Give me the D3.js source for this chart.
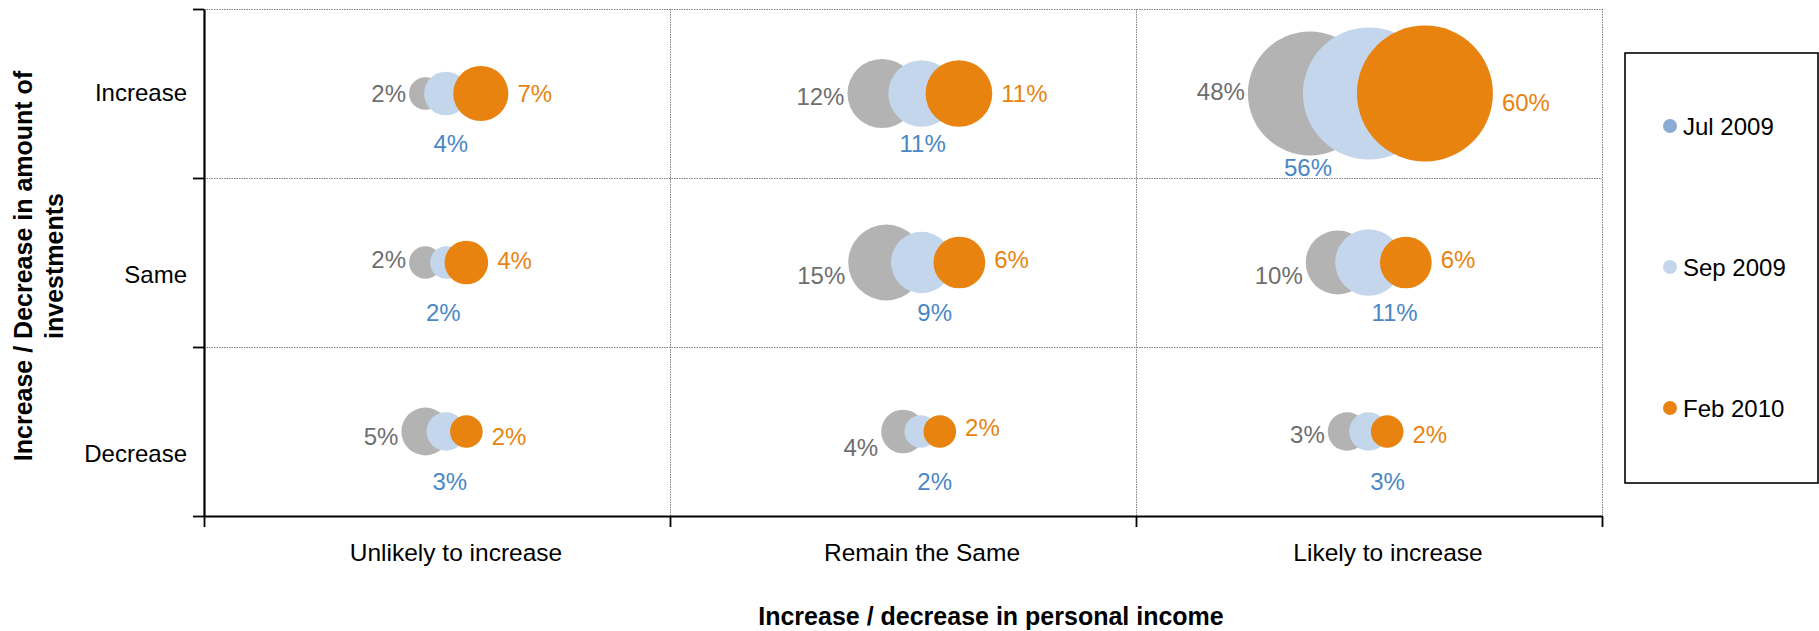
<!DOCTYPE html>
<html>
<head>
<meta charset="utf-8">
<title>Investments vs personal income</title>
<script src="https://cdn.jsdelivr.net/npm/d3@7"></script>
<style>
  html, body { margin: 0; padding: 0; background: #fff; }
  svg { display: block; font-family: "Liberation Sans", Arial, sans-serif; }
</style>
</head>
<body>
<svg id="chart" width="1819" height="631"></svg>
<script>
// Categories
const investmentRows = ["Increase", "Same", "Decrease"];
const incomeCols = ["Unlikely to increase", "Remain the Same", "Likely to increase"];
const seriesNames = ["Jul 2009", "Sep 2009", "Feb 2010"];

// Share of respondents (%), [investment row][income column]
const jul2009 = [[2, 12, 48], [2, 15, 10], [5, 4, 3]];
const sep2009 = [[4, 11, 56], [2, 9, 11], [3, 2, 3]];
const feb2010 = [[7, 11, 60], [4, 6, 6], [2, 2, 2]];

// Bubble x values on the income axis (category units, 0..3)
const jul2009X = [[0.475, 1.455, 2.373], [0.475, 1.464, 2.433], [0.475, 1.500, 2.453]];
const sep2009X = [[0.519, 1.540, 2.500], [0.520, 1.540, 2.499], [0.519, 1.538, 2.499]];
const feb2010X = [[0.594, 1.620, 2.620], [0.563, 1.621, 2.579], [0.563, 1.579, 2.539]];

// Hand placement of the data labels (px), [row][column]
const julLabelDy = [[0, 3, -2], [-3, 13, 13], [5, 16, 3]];
const sepLabelDx = [[5, 1, -61], [-3, 13, 26], [4, 14, 19]];
const febLabelDy = [[0, 0, 9], [-2, -3, -3], [5, -4, 3]];

const series = [
  { name: seriesNames[0], values: jul2009, xs: jul2009X, fill: "#b3b3b3", text: "#6e6e6e", key: "#8aabd4" },
  { name: seriesNames[1], values: sep2009, xs: sep2009X, fill: "#c3d6eb", text: "#4a87c5", key: "#c3d6eb" },
  { name: seriesNames[2], values: feb2010, xs: feb2010X, fill: "#e8830f", text: "#e8830f", key: "#e8830f" }
];

const svg = d3.select("#chart");
const plotLeft = 204, plotRight = 1602, plotTop = 9, plotBottom = 516;

const x = d3.scaleLinear().domain([0, 3]).range([plotLeft, plotRight]);
const y = d3.scaleLinear().domain([0, 3]).range([plotTop, plotBottom]);
const r = d3.scalePow().exponent(0.42).domain([0, 60]).range([0, 68]);

// Dotted grid
const grid = svg.append("g").attr("stroke", "#808080").attr("stroke-width", 1)
  .attr("stroke-dasharray", "1.5,1").attr("fill", "none");
[0, 1, 2].forEach(i => {
  grid.append("line").attr("x1", plotLeft).attr("x2", plotRight)
    .attr("y1", y(i) + 0.5).attr("y2", y(i) + 0.5);
});
[1, 2, 3].forEach(i => {
  grid.append("line").attr("y1", plotTop).attr("y2", plotBottom)
    .attr("x1", x(i) + 0.5).attr("x2", x(i) + 0.5);
});

// Axes (ticks only at category boundaries)
const yAxis = svg.append("g").attr("transform", `translate(${plotLeft},0)`)
  .call(d3.axisLeft(y).tickValues([0, 1, 2, 3]).tickFormat("").tickSizeInner(11).tickSizeOuter(0));
const xAxis = svg.append("g").attr("transform", `translate(0,${plotBottom})`)
  .call(d3.axisBottom(x).tickValues([0, 1, 2, 3]).tickFormat("").tickSizeInner(11).tickSizeOuter(0));
[yAxis, xAxis].forEach(a => {
  a.select(".domain").attr("stroke", "#000").attr("stroke-width", 2.2);
  a.selectAll(".tick line").attr("stroke", "#000").attr("stroke-width", 1.8);
});

// Category labels
const yLabelShift = [-1, 12, 22];
svg.append("g").selectAll("text").data(investmentRows).join("text")
  .attr("x", 187)
  .attr("y", (d, i) => y(i + 0.5) + yLabelShift[i])
  .attr("text-anchor", "end").attr("dominant-baseline", "central")
  .attr("font-size", 24).attr("fill", "#000").text(d => d);

svg.append("g").selectAll("text").data(incomeCols).join("text")
  .attr("x", (d, i) => x(i + 0.5) + 19)
  .attr("y", 552)
  .attr("text-anchor", "middle").attr("dominant-baseline", "central")
  .attr("font-size", 24.5).attr("fill", "#000").text(d => d);

// Axis titles
svg.append("text")
  .attr("x", 991).attr("y", 616)
  .attr("text-anchor", "middle").attr("dominant-baseline", "central")
  .attr("font-size", 25).attr("font-weight", "bold").attr("fill", "#000")
  .text("Increase / decrease in personal income");

const yTitle = svg.append("text")
  .attr("transform", "translate(38.5,266) rotate(-90)")
  .attr("text-anchor", "middle").attr("font-size", 25).attr("font-weight", "bold").attr("fill", "#000");
yTitle.append("tspan").attr("x", 0).attr("y", -15.5).attr("dominant-baseline", "central")
  .text("Increase / Decrease in amount of");
yTitle.append("tspan").attr("x", 0).attr("y", 15.5).attr("dominant-baseline", "central")
  .text("investments");

// Flatten a series into one record per grid cell
function cells(s) {
  const out = [];
  s.values.forEach((row, ri) => row.forEach((v, ci) => {
    out.push({ v, ri, ci, cx: x(s.xs[ri][ci]), cy: y(ri + 0.5), rad: r(v) });
  }));
  return out;
}

// Bubbles: Jul under Sep under Feb
series.forEach(s => {
  svg.append("g").selectAll("circle").data(cells(s)).join("circle")
    .attr("cx", d => d.cx).attr("cy", d => d.cy).attr("r", d => d.rad)
    .attr("fill", s.fill);
});

// Data labels: Jul to the left, Sep below, Feb to the right
const fmt = v => v + "%";
svg.append("g").selectAll("text").data(cells(series[0])).join("text")
  .attr("x", d => d.cx - d.rad - 3)
  .attr("y", d => d.cy + julLabelDy[d.ri][d.ci])
  .attr("text-anchor", "end").attr("dominant-baseline", "central")
  .attr("font-size", 24).attr("fill", series[0].text).text(d => fmt(d.v));

svg.append("g").selectAll("text").data(cells(series[1])).join("text")
  .attr("x", d => d.cx + sepLabelDx[d.ri][d.ci])
  .attr("y", d => d.cy + Math.max(50, d.rad + 8))
  .attr("text-anchor", "middle").attr("dominant-baseline", "central")
  .attr("font-size", 24).attr("fill", series[1].text).text(d => fmt(d.v));

svg.append("g").selectAll("text").data(cells(series[2])).join("text")
  .attr("x", d => d.cx + d.rad + 9)
  .attr("y", d => d.cy + febLabelDy[d.ri][d.ci])
  .attr("text-anchor", "start").attr("dominant-baseline", "central")
  .attr("font-size", 24).attr("fill", series[2].text).text(d => fmt(d.v));

// Legend
const legend = svg.append("g");
legend.append("rect")
  .attr("x", 1625).attr("y", 53).attr("width", 193).attr("height", 430)
  .attr("fill", "#fff").attr("stroke", "#000").attr("stroke-width", 1.6);
const legendY = d3.scalePoint().domain(seriesNames).range([126, 408]);
const item = legend.selectAll("g.item").data(series).join("g").attr("class", "item")
  .attr("transform", d => `translate(0,${legendY(d.name)})`);
item.append("circle").attr("cx", 1670).attr("cy", 0).attr("r", 7).attr("fill", d => d.key);
item.append("text").attr("x", 1683).attr("y", 0).attr("dominant-baseline", "central")
  .attr("font-size", 24).attr("fill", "#000").text(d => d.name);
</script>
</body>
</html>
